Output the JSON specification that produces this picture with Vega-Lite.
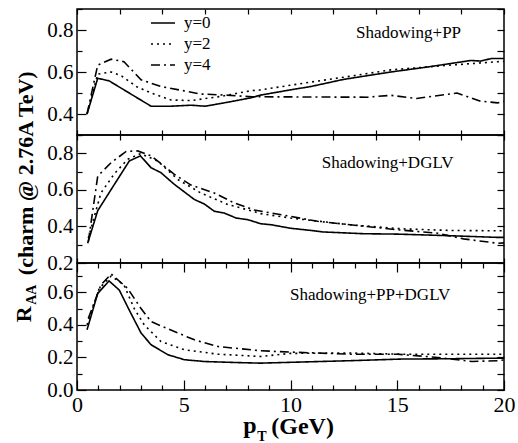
{
"$schema": "https://vega.github.io/schema/vega-lite/v6.json",
"padding": {"left": 12, "top": 7, "right": 5, "bottom": 5},
"background": "white",
"spacing": 0,
"bounds": "flush",
"datasets": {
"pp": [
{"s":"y=0","pT":0.47,"R":0.40},{"s":"y=0","pT":0.97,"R":0.57},{"s":"y=0","pT":1.5,"R":0.558},{"s":"y=0","pT":3.47,"R":0.437},{"s":"y=0","pT":4.4,"R":0.437},{"s":"y=0","pT":5.34,"R":0.442},{"s":"y=0","pT":6.0,"R":0.437},{"s":"y=0","pT":7.0,"R":0.455},{"s":"y=0","pT":8.15,"R":0.477},{"s":"y=0","pT":8.6,"R":0.49},{"s":"y=0","pT":10.0,"R":0.515},{"s":"y=0","pT":10.96,"R":0.531},{"s":"y=0","pT":12.5,"R":0.565},{"s":"y=0","pT":14.7,"R":0.60},{"s":"y=0","pT":16.5,"R":0.625},{"s":"y=0","pT":18.45,"R":0.655},{"s":"y=0","pT":18.9,"R":0.652},{"s":"y=0","pT":19.4,"R":0.664},{"s":"y=0","pT":20,"R":0.664},
{"s":"y=2","pT":0.47,"R":0.40},{"s":"y=2","pT":0.97,"R":0.59},{"s":"y=2","pT":1.6,"R":0.60},{"s":"y=2","pT":2.06,"R":0.583},{"s":"y=2","pT":2.8,"R":0.53},{"s":"y=2","pT":3.47,"R":0.50},{"s":"y=2","pT":4.4,"R":0.467},{"s":"y=2","pT":5.34,"R":0.464},{"s":"y=2","pT":6.74,"R":0.484},{"s":"y=2","pT":8.15,"R":0.511},{"s":"y=2","pT":8.6,"R":0.515},{"s":"y=2","pT":10.96,"R":0.552},{"s":"y=2","pT":12.8,"R":0.58},{"s":"y=2","pT":14.7,"R":0.61},{"s":"y=2","pT":17.5,"R":0.633},{"s":"y=2","pT":19.7,"R":0.649},{"s":"y=2","pT":20,"R":0.65},
{"s":"y=4","pT":0.47,"R":0.40},{"s":"y=4","pT":0.97,"R":0.633},{"s":"y=4","pT":1.6,"R":0.661},{"s":"y=4","pT":2.2,"R":0.649},{"s":"y=4","pT":3.0,"R":0.563},{"s":"y=4","pT":3.93,"R":0.531},{"s":"y=4","pT":5.8,"R":0.495},{"s":"y=4","pT":7.0,"R":0.49},{"s":"y=4","pT":8.2,"R":0.482},{"s":"y=4","pT":10.96,"R":0.481},{"s":"y=4","pT":13.6,"R":0.48},{"s":"y=4","pT":14.7,"R":0.489},{"s":"y=4","pT":15.9,"R":0.474},{"s":"y=4","pT":17.8,"R":0.50},{"s":"y=4","pT":18.9,"R":0.461},{"s":"y=4","pT":19.7,"R":0.453},{"s":"y=4","pT":20,"R":0.46}
],
"dglv": [
{"s":"y=0","pT":0.5,"R":0.308},{"s":"y=0","pT":0.97,"R":0.486},{"s":"y=0","pT":1.6,"R":0.602},{"s":"y=0","pT":2.45,"R":0.758},{"s":"y=0","pT":2.97,"R":0.786},{"s":"y=0","pT":3.47,"R":0.721},{"s":"y=0","pT":3.93,"R":0.694},{"s":"y=0","pT":4.56,"R":0.63},{"s":"y=0","pT":5.5,"R":0.547},{"s":"y=0","pT":5.96,"R":0.523},{"s":"y=0","pT":6.43,"R":0.483},{"s":"y=0","pT":6.9,"R":0.473},{"s":"y=0","pT":7.45,"R":0.446},{"s":"y=0","pT":8.0,"R":0.437},{"s":"y=0","pT":8.6,"R":0.415},{"s":"y=0","pT":9.1,"R":0.409},{"s":"y=0","pT":10.0,"R":0.39},{"s":"y=0","pT":10.96,"R":0.378},{"s":"y=0","pT":11.5,"R":0.37},{"s":"y=0","pT":13.45,"R":0.36},{"s":"y=0","pT":15.0,"R":0.358},{"s":"y=0","pT":17.5,"R":0.349},{"s":"y=0","pT":18.5,"R":0.345},{"s":"y=0","pT":19.7,"R":0.34},{"s":"y=0","pT":20,"R":0.34},
{"s":"y=2","pT":0.53,"R":0.336},{"s":"y=2","pT":1.12,"R":0.583},{"s":"y=2","pT":1.75,"R":0.688},{"s":"y=2","pT":2.37,"R":0.767},{"s":"y=2","pT":2.97,"R":0.798},{"s":"y=2","pT":3.78,"R":0.758},{"s":"y=2","pT":4.72,"R":0.657},{"s":"y=2","pT":5.8,"R":0.583},{"s":"y=2","pT":7.06,"R":0.52},{"s":"y=2","pT":8.15,"R":0.486},{"s":"y=2","pT":8.6,"R":0.47},{"s":"y=2","pT":10.0,"R":0.446},{"s":"y=2","pT":12.8,"R":0.409},{"s":"y=2","pT":15.2,"R":0.387},{"s":"y=2","pT":17.5,"R":0.378},{"s":"y=2","pT":20,"R":0.376},
{"s":"y=4","pT":0.53,"R":0.317},{"s":"y=4","pT":0.97,"R":0.675},{"s":"y=4","pT":1.6,"R":0.749},{"s":"y=4","pT":2.3,"R":0.81},{"s":"y=4","pT":2.84,"R":0.813},{"s":"y=4","pT":3.47,"R":0.786},{"s":"y=4","pT":4.56,"R":0.685},{"s":"y=4","pT":5.34,"R":0.626},{"s":"y=4","pT":6.43,"R":0.583},{"s":"y=4","pT":7.37,"R":0.528},{"s":"y=4","pT":8.3,"R":0.49},{"s":"y=4","pT":10.0,"R":0.455},{"s":"y=4","pT":11.27,"R":0.428},{"s":"y=4","pT":12.8,"R":0.409},{"s":"y=4","pT":15.0,"R":0.382},{"s":"y=4","pT":16.9,"R":0.363},{"s":"y=4","pT":18.1,"R":0.332},{"s":"y=4","pT":19.7,"R":0.308},{"s":"y=4","pT":20,"R":0.31}
],
"both": [
{"s":"y=0","pT":0.47,"R":0.37},{"s":"y=0","pT":0.97,"R":0.593},{"s":"y=0","pT":1.5,"R":0.67},{"s":"y=0","pT":1.98,"R":0.614},{"s":"y=0","pT":2.45,"R":0.49},{"s":"y=0","pT":3.0,"R":0.35},{"s":"y=0","pT":3.47,"R":0.278},{"s":"y=0","pT":4.25,"R":0.217},{"s":"y=0","pT":5.03,"R":0.186},{"s":"y=0","pT":5.96,"R":0.175},{"s":"y=0","pT":7.37,"R":0.169},{"s":"y=0","pT":8.6,"R":0.165},{"s":"y=0","pT":10,"R":0.17},{"s":"y=0","pT":12.8,"R":0.18},{"s":"y=0","pT":15.2,"R":0.19},{"s":"y=0","pT":17.5,"R":0.192},{"s":"y=0","pT":20,"R":0.196},
{"s":"y=2","pT":0.47,"R":0.40},{"s":"y=2","pT":1.04,"R":0.624},{"s":"y=2","pT":1.6,"R":0.70},{"s":"y=2","pT":2.2,"R":0.645},{"s":"y=2","pT":2.68,"R":0.50},{"s":"y=2","pT":3.15,"R":0.40},{"s":"y=2","pT":3.93,"R":0.298},{"s":"y=2","pT":5.03,"R":0.247},{"s":"y=2","pT":6.6,"R":0.22},{"s":"y=2","pT":8.6,"R":0.206},{"s":"y=2","pT":10,"R":0.225},{"s":"y=2","pT":12.8,"R":0.227},{"s":"y=2","pT":15.2,"R":0.22},{"s":"y=2","pT":20,"R":0.22},
{"s":"y=4","pT":0.53,"R":0.44},{"s":"y=4","pT":1.12,"R":0.645},{"s":"y=4","pT":1.6,"R":0.713},{"s":"y=4","pT":2.37,"R":0.624},{"s":"y=4","pT":3.0,"R":0.50},{"s":"y=4","pT":3.47,"R":0.42},{"s":"y=4","pT":4.56,"R":0.359},{"s":"y=4","pT":5.5,"R":0.308},{"s":"y=4","pT":6.6,"R":0.267},{"s":"y=4","pT":8.6,"R":0.241},{"s":"y=4","pT":10,"R":0.233},{"s":"y=4","pT":12.8,"R":0.22},{"s":"y=4","pT":15,"R":0.22},{"s":"y=4","pT":16.9,"R":0.20},{"s":"y=4","pT":18.5,"R":0.175},{"s":"y=4","pT":19.7,"R":0.18},{"s":"y=4","pT":20,"R":0.185}
]
},
"vconcat": [
{
"width": 427, "height": 126,
"layer": [
{
"data": {"name": "pp"},
"mark": {"type": "line", "stroke": "black", "strokeWidth": 1.6},
"encoding": {
"x": {"field": "pT", "type": "quantitative", "scale": {"domain": [0, 20], "nice": false, "zero": false},
 "axis": {"orient": "bottom", "title": null, "values": [0,2,4,6,8,10,12,14,16,18,20], "labels": false, "tickSize": -5}},
"y": {"field": "R", "type": "quantitative", "scale": {"domain": [0.3, 0.9], "nice": false, "zero": false},
 "axis": {"orient": "left", "title": null, "values": [0.3,0.4,0.5,0.6,0.7,0.8,0.9],
  "tickSize": {"condition": {"test": "abs(datum.value*5-round(datum.value*5))<0.001", "value": -9}, "value": -5},
  "labelFontSize": {"condition": {"test": "abs(datum.value*5-round(datum.value*5))<0.001", "value": 21}, "value": 0},
  "labelExpr": "abs(datum.value*5-round(datum.value*5))<0.001 ? datum.label : ''", "labelPadding": 13}},
"strokeDash": {"field": "s", "type": "nominal", "scale": {"domain": ["y=0","y=2","y=4"], "range": [[1,0],[2,4],[9,4,2,4]]},
 "legend": {"title": null, "orient": "none", "legendX": 73, "legendY": 1, "symbolType": "stroke", "symbolSize": 576, "symbolStrokeWidth": 1.6, "symbolStrokeColor": "black", "labelFont": "Liberation Serif", "labelFontSize": 17, "labelColor": "black", "labelOffset": 8, "rowPadding": -3}}
}
},
{
"data": {"values": [{}]},
"mark": {"type": "text", "font": "Liberation Serif", "fontSize": 17, "color": "black"},
"encoding": {
"x": {"datum": 15.53, "type": "quantitative", "scale": {"domain": [0, 20], "nice": false, "zero": false},
 "axis": {"orient": "top", "title": null, "values": [0,2,4,6,8,10,12,14,16,18,20], "labels": false, "tickSize": -5}},
"y": {"datum": 0.785, "type": "quantitative", "scale": {"domain": [0.3, 0.9], "nice": false, "zero": false},
 "axis": {"orient": "right", "title": null, "values": [0.3,0.4,0.5,0.6,0.7,0.8,0.9], "labels": false, "tickSize": -7}},
"text": {"value": "Shadowing+PP"}
}
}
],
"resolve": {"axis": {"x": "independent", "y": "independent"}}
},
{
"width": 427, "height": 128,
"layer": [
{
"data": {"name": "dglv"},
"mark": {"type": "line", "stroke": "black", "strokeWidth": 1.6},
"encoding": {
"x": {"field": "pT", "type": "quantitative", "scale": {"domain": [0, 20], "nice": false, "zero": false},
 "axis": {"orient": "bottom", "title": null, "values": [0,2,4,6,8,10,12,14,16,18,20], "labels": false, "tickSize": -5}},
"y": {"field": "R", "type": "quantitative", "scale": {"domain": [0.2, 0.9], "nice": false, "zero": false},
 "axis": {"orient": "left", "title": null, "values": [0.2,0.3,0.4,0.5,0.6,0.7,0.8,0.9],
  "tickSize": {"condition": {"test": "abs(datum.value*5-round(datum.value*5))<0.001", "value": -9}, "value": -5},
  "labelFontSize": {"condition": {"test": "abs(datum.value*5-round(datum.value*5))<0.001", "value": 21}, "value": 0},
  "labelExpr": "abs(datum.value*5-round(datum.value*5))<0.001 ? datum.label : ''", "labelPadding": 13}},
"strokeDash": {"field": "s", "type": "nominal", "scale": {"domain": ["y=0","y=2","y=4"], "range": [[1,0],[2,4],[9,4,2,4]]}, "legend": null}
}
},
{
"data": {"values": [{}]},
"mark": {"type": "text", "font": "Liberation Serif", "fontSize": 17, "color": "black"},
"encoding": {
"x": {"datum": 14.55, "type": "quantitative", "scale": {"domain": [0, 20], "nice": false, "zero": false},
 "axis": {"orient": "top", "title": null, "values": [0,2,4,6,8,10,12,14,16,18,20], "labels": false, "tickSize": -5}},
"y": {"datum": 0.749, "type": "quantitative", "scale": {"domain": [0.2, 0.9], "nice": false, "zero": false},
 "axis": {"orient": "right", "title": null, "values": [0.2,0.3,0.4,0.5,0.6,0.7,0.8,0.9], "labels": false, "tickSize": -7}},
"text": {"value": "Shadowing+DGLV"}
}
}
],
"resolve": {"axis": {"x": "independent", "y": "independent"}}
},
{
"width": 427, "height": 127,
"layer": [
{
"data": {"name": "both"},
"mark": {"type": "line", "stroke": "black", "strokeWidth": 1.6},
"encoding": {
"x": {"field": "pT", "type": "quantitative", "scale": {"domain": [0, 20], "nice": false, "zero": false},
 "axis": {"orient": "bottom", "title": null, "values": [0,1,2,3,4,5,6,7,8,9,10,11,12,13,14,15,16,17,18,19,20],
  "tickSize": {"condition": {"test": "datum.value % 5 === 0", "value": -10}, "value": -5},
  "labelFontSize": {"condition": {"test": "datum.value % 5 === 0", "value": 22}, "value": 0},
  "labelExpr": "datum.value % 5 === 0 ? datum.label : ''", "labelPadding": 14}},
"y": {"field": "R", "type": "quantitative", "scale": {"domain": [0, 0.78], "nice": false, "zero": false},
 "axis": {"orient": "left", "title": null, "values": [0,0.1,0.2,0.3,0.4,0.5,0.6,0.7],
  "tickSize": {"condition": {"test": "abs(datum.value*5-round(datum.value*5))<0.001", "value": -9}, "value": -5},
  "labelFontSize": {"condition": {"test": "abs(datum.value*5-round(datum.value*5))<0.001", "value": 21}, "value": 0},
  "labelExpr": "abs(datum.value*5-round(datum.value*5))<0.001 ? datum.label : ''", "labelPadding": 13}},
"strokeDash": {"field": "s", "type": "nominal", "scale": {"domain": ["y=0","y=2","y=4"], "range": [[1,0],[2,4],[9,4,2,4]]}, "legend": null}
}
},
{
"data": {"values": [{}]},
"mark": {"type": "text", "font": "Liberation Serif", "fontSize": 17, "color": "black"},
"encoding": {
"x": {"datum": 13.73, "type": "quantitative", "scale": {"domain": [0, 20], "nice": false, "zero": false},
 "axis": {"orient": "top", "title": null, "values": [0,1,2,3,4,5,6,7,8,9,10,11,12,13,14,15,16,17,18,19,20], "labels": false,
  "tickSize": {"condition": {"test": "datum.value % 5 === 0", "value": -9}, "value": -5}}},
"y": {"datum": 0.583, "type": "quantitative", "scale": {"domain": [0, 0.78], "nice": false, "zero": false},
 "axis": {"orient": "right", "title": null, "values": [0,0.1,0.2,0.3,0.4,0.5,0.6,0.7], "labels": false, "tickSize": -7}},
"text": {"value": "Shadowing+PP+DGLV"}
}
},
{
"data": {"values": [{}]},
"mark": {"type": "text", "font": "Liberation Serif", "fontSize": 22, "fontWeight": "bold", "color": "black", "angle": 270, "align": "center", "baseline": "middle"},
"encoding": {
"x": {"datum": -2.39, "type": "quantitative", "scale": {"domain": [0, 20], "nice": false, "zero": false}, "axis": null},
"y": {"datum": 1.331, "type": "quantitative", "scale": {"domain": [0, 0.78], "nice": false, "zero": false}, "axis": null},
"text": {"value": "(charm @ 2.76A TeV)"}
}
},
{
"data": {"values": [{}]},
"mark": {"type": "text", "font": "Liberation Serif", "fontSize": 22, "fontWeight": "bold", "color": "black", "angle": 270, "align": "center", "baseline": "middle"},
"encoding": {
"x": {"datum": -2.46, "type": "quantitative", "scale": {"domain": [0, 20], "nice": false, "zero": false}, "axis": null},
"y": {"datum": 0.465, "type": "quantitative", "scale": {"domain": [0, 0.78], "nice": false, "zero": false}, "axis": null},
"text": {"value": "R"}
}
},
{
"data": {"values": [{}]},
"mark": {"type": "text", "font": "Liberation Serif", "fontSize": 14, "fontWeight": "bold", "color": "black", "angle": 270, "align": "center", "baseline": "middle"},
"encoding": {
"x": {"datum": -2.11, "type": "quantitative", "scale": {"domain": [0, 20], "nice": false, "zero": false}, "axis": null},
"y": {"datum": 0.585, "type": "quantitative", "scale": {"domain": [0, 0.78], "nice": false, "zero": false}, "axis": null},
"text": {"value": "AA"}
}
},
{
"data": {"values": [{}]},
"mark": {"type": "text", "font": "Liberation Serif", "fontSize": 24, "fontWeight": "bold", "color": "black", "align": "center", "baseline": "alphabetic"},
"encoding": {
"x": {"datum": 8.1, "type": "quantitative", "scale": {"domain": [0, 20], "nice": false, "zero": false}, "axis": null},
"y": {"datum": -0.266, "type": "quantitative", "scale": {"domain": [0, 0.78], "nice": false, "zero": false}, "axis": null},
"text": {"value": "p"}
}
},
{
"data": {"values": [{}]},
"mark": {"type": "text", "font": "Liberation Serif", "fontSize": 14, "fontWeight": "bold", "color": "black", "align": "center", "baseline": "alphabetic"},
"encoding": {
"x": {"datum": 8.66, "type": "quantitative", "scale": {"domain": [0, 20], "nice": false, "zero": false}, "axis": null},
"y": {"datum": -0.315, "type": "quantitative", "scale": {"domain": [0, 0.78], "nice": false, "zero": false}, "axis": null},
"text": {"value": "T"}
}
},
{
"data": {"values": [{}]},
"mark": {"type": "text", "font": "Liberation Serif", "fontSize": 24, "fontWeight": "bold", "color": "black", "align": "left", "baseline": "alphabetic"},
"encoding": {
"x": {"datum": 9.1, "type": "quantitative", "scale": {"domain": [0, 20], "nice": false, "zero": false}, "axis": null},
"y": {"datum": -0.272, "type": "quantitative", "scale": {"domain": [0, 0.78], "nice": false, "zero": false}, "axis": null},
"text": {"value": "(GeV)"}
}
}
],
"resolve": {"axis": {"x": "independent", "y": "independent"}}
}
],
"resolve": {"scale": {"strokeDash": "independent"}, "legend": {"strokeDash": "independent"}},
"config": {
"view": {"stroke": "black", "strokeWidth": 1.5},
"axis": {"domain": false, "grid": false, "labelFont": "Liberation Serif", "labelFontSize": 21, "labelColor": "black", "tickColor": "black", "tickWidth": 1.2, "labelOverlap": false, "labelFlush": false}
}
}
